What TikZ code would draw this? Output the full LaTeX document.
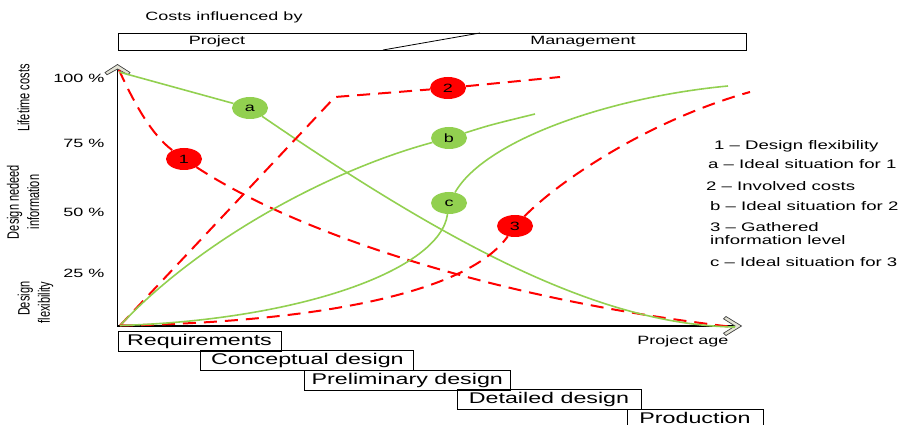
\documentclass[tikz,border=0pt]{standalone}
\usepackage{fontspec}
\setmainfont{Liberation Sans}[FakeStretch=1.5]
\newfontfamily\sidefont{Liberation Sans}
\usetikzlibrary{shapes.geometric}
\definecolor{leafgreen}{HTML}{92D050}
\definecolor{signalred}{HTML}{FF0000}
\definecolor{chevronfill}{HTML}{E4E4D6}
\newcommand\txtsmall{\fontsize{12}{13}\selectfont}
\newcommand\legendfont{\fontsize{12.4}{13}\selectfont}
\newcommand\phasefont{\fontsize{15.5}{18}\selectfont}

\begin{document}
\begin{tikzpicture}[x=1pt,y=-1pt,
  gline/.style={leafgreen, line width=1.6pt},
  rdash/.style={signalred, line width=2pt, dash pattern=on 13pt off 8pt},
  markbase/.style={ellipse, minimum width=36pt, minimum height=22pt, inner sep=0pt, font=\txtsmall},
  redmark/.style={markbase, fill=signalred},
  greenmark/.style={markbase, fill=leafgreen},
  phasebox/.style={draw=black, line width=0.9pt, inner sep=0pt, font=\phasefont,
    text height=11.3pt, text depth=3.3pt},
  legend/.style={anchor=west, font=\legendfont, inner sep=0pt, align=left},
  tick/.style={anchor=east, font=\txtsmall, inner sep=0pt},
  plain/.style={font=\txtsmall, inner sep=0pt},
  sidelabel/.style={rotate=90, yscale=1.5, inner sep=0pt,
    font={\sidefont\fontsize{11}{13.5}\selectfont}},
  axisline/.style={black, line width=1.1pt},
  chevron/.style={fill=chevronfill, draw=black!75, line width=0.7pt, line join=miter}]

\useasboundingbox (0,0) rectangle (906,425);

% heading and the project / management band
\node[plain] (heading) at (224,17) {Costs influenced by};
\node[draw=black, line width=0.8pt, minimum width=628pt, minimum height=17pt, inner sep=0pt] (band) at (432,41.5) {};
\draw[line width=0.8pt] (383,50) -- (480,33);
\node[plain] (project) at (217,41.5) {Project};
\node[plain] (management) at (583,41.5) {Management};

% side labels
\node[sidelabel] (lifetime) at (23.5,98) {Lifetime costs};
\node[sidelabel, align=center] (needed) at (23,202) {Design nedeed\\information};
\node[sidelabel, align=right] (flex) at (35.5,302.5) {Design\\flexibility};

% percentage ticks
\node[tick] (t100) at (104.5,78) {100 \%};
\node[tick] (t75) at (104.5,143) {75 \%};
\node[tick] (t50) at (104.5,212) {50 \%};
\node[tick] (t25) at (104.5,273) {25 \%};

% axes
\coordinate (origin) at (117.5,326);
\coordinate (ytop) at (117.5,69);
\coordinate (xend) at (735,326);
\draw[axisline] (ytop) -- (origin) -- (xend);
\filldraw[chevron] (117.5,64.5) -- (130,72.5) -- (128,74.8) -- (117.5,69) -- (107,74.8) -- (105,72.5) -- cycle;
\filldraw[chevron] (741.5,326) -- (726,316.5) -- (723.5,318.8) -- (735,326) -- (723.5,333.2) -- (726,335.5) -- cycle;
\node[plain] (age) at (683,341) {Project age};

% markers
\node[greenmark] (a) at (250,108) {a};
\node[greenmark] (b) at (449,138) {b};
\node[greenmark] (c) at (449,203) {c};
\node[redmark] (n1) at (184,159) {1};
\node[redmark] (n2) at (448,88) {2};
\node[redmark] (n3) at (515,226) {3};

% curve end points
\coordinate (topA) at (119,72);
\coordinate (top1) at (119,70);
\coordinate (base) at (120,325.5);
\coordinate (endA) at (735,327);
\coordinate (end1) at (733,327);
\coordinate (bend2) at (335,97);
\coordinate (end2) at (560,77);
\coordinate (endB) at (535,114);
\coordinate (endC) at (728,86);
\coordinate (end3) at (750,92);

% 1 - design flexibility and its ideal a
\draw[rdash] (top1) .. controls (135,105) and (152,135) .. (n1);
\draw[rdash] (n1) .. controls (300,235) and (500,300) .. (end1);
\draw[gline] (topA) -- (a);
\draw[gline] (a) .. controls (450,245) and (600,325) .. (endA);

% 2 - involved costs and its ideal b
\draw[rdash] (base) -- (bend2) -- (n2);
\draw[rdash] (n2) -- (end2);
\draw[gline] (base) .. controls (200,240) and (330,170) .. (b);
\draw[gline] (b) .. controls (490,125) .. (endB);

% 3 - gathered information and its ideal c
\draw[rdash] (base) .. controls (330,322) and (470,290) .. (n3);
\draw[rdash] (n3) .. controls (560,180) and (650,120) .. (end3);
\draw[gline] (base) .. controls (300,320) and (440,270) .. (c);
\draw[gline] (c) .. controls (485,140) and (610,97) .. (endC);

% legend
\node[legend] (lg1) at (714,146) {1 – Design flexibility};
\node[legend] (lga) at (708,164) {a – Ideal situation for 1};
\node[legend] (lg2) at (706,186) {2 – Involved costs};
\node[legend] (lgb) at (710,206) {b – Ideal situation for 2};
\node[legend] (lg3) at (710,233.5) {3 – Gathered\\information level};
\node[legend] (lgc) at (710,262) {c – Ideal situation for 3};

% project phases
\node[phasebox, minimum width=163pt, minimum height=20pt] (req) at (199.5,341) {Requirements};
\node[phasebox, minimum width=213pt, minimum height=19.5pt] (concept) at (307.4,360.5) {Conceptual design};
\node[phasebox, minimum width=206pt, minimum height=20pt] (prelim) at (407.3,380) {Preliminary design};
\node[phasebox, minimum width=184pt, minimum height=19.5pt] (detail) at (549,399.5) {Detailed design};
\node[phasebox, minimum width=136pt, minimum height=20pt] (prod) at (695,419) {Production};
\end{tikzpicture}
\end{document}
